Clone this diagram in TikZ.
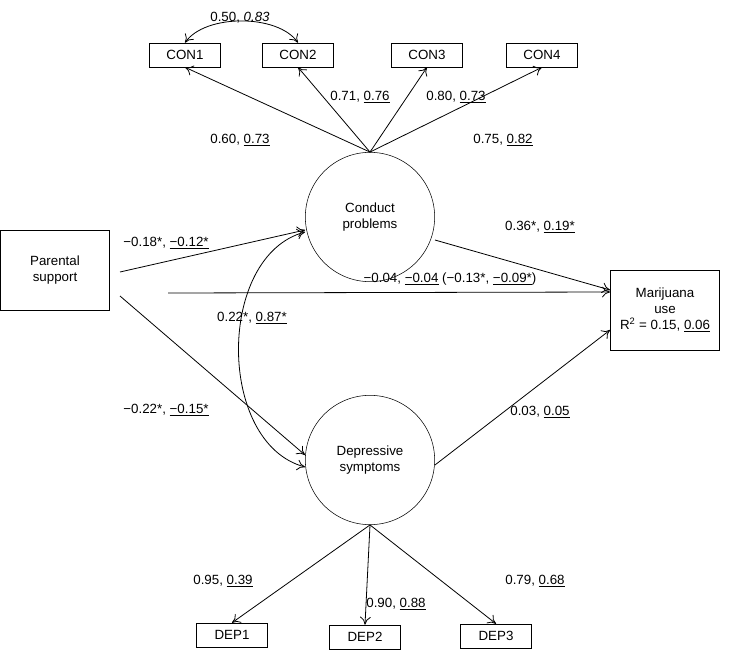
\documentclass[tikz,border=0pt]{standalone}
\usepackage{fontspec}
\setmainfont{Liberation Sans}
\usetikzlibrary{arrows.meta}

\begin{document}
\begin{tikzpicture}[x=0.75pt,y=-0.75pt,
  txt/.style={font=\fontsize{10}{12}\selectfont},
  box/.style={draw,txt,minimum width=53pt,minimum height=18pt,inner sep=1pt},
  bigbox/.style={draw,txt,minimum width=82pt,minimum height=60pt,align=center},
  latent/.style={draw,txt,circle,minimum size=97pt,align=center},
  lab/.style={txt,inner sep=1pt},
  path/.style={-{To[length=6pt,width=8pt]},line width=0.6pt}]

\useasboundingbox (0,0) rectangle (746,653);

% Indicators
\node[box] (con1) at (185,55) {CON1};
\node[box] (con2) at (298,55) {CON2};
\node[box] (con3) at (427,55) {CON3};
\node[box] (con4) at (542,55) {CON4};
\node[box] (dep1) at (232,635) {DEP1};
\node[box] (dep2) at (365,637) {DEP2};
\node[box] (dep3) at (496,636) {DEP3};

% Latent and observed variables
\node[latent] (cp) at (370,217) {Conduct\\problems};
\node[latent] (ds) at (370,460) {Depressive\\symptoms};
\node[bigbox] (ps) at (55,270) {Parental\\support};
\node[bigbox] (mu) at (665,310) {Marijuana\\use\\R\textsuperscript{2} = 0.15, \underline{0.06}};

% Loadings
\foreach \c in {con1,con2,con3,con4}
  \draw[path] (cp.north) -- (\c.south);
\foreach \d in {dep1,dep2,dep3}
  \draw[path] (ds.south) -- (\d.north);
\draw[{To[length=6pt,width=8pt]}-{To[length=6pt,width=8pt]},line width=0.6pt]
  (con1.north) to[out=55,in=125,looseness=0.8] (con2.north);

% Structural paths
\coordinate (psa) at (120,272);
\coordinate (psb) at (120,296);
\coordinate (psc) at (168,293);
\draw[path] (psa) -- (cp.west |- 0,230);
\draw[path] (psb) -- (ds.west |- 0,455);
\draw[path] (psc) -- (mu.west |- 0,292);
\draw[path] (cp.east |- 0,240) -- (mu.west |- 0,290);
\draw[path] (ds.east |- 0,465) -- (mu.west |- 0,330);
\draw[{To[length=6pt,width=8pt]}-{To[length=6pt,width=8pt]},line width=0.6pt]
  (cp.west |- 0,232) to[out=195,in=165,looseness=1] (ds.west |- 0,467);

% Labels
\node[lab] at (240,18) {0.50, \textit{0.83}};
\node[lab] at (240,140) {0.60, \underline{0.73}};
\node[lab] at (360,97) {0.71, \underline{0.76}};
\node[lab] at (456,97) {0.80, \underline{0.73}};
\node[lab] at (503,140) {0.75, \underline{0.82}};
\node[lab] at (166,243) {−0.18*, \underline{−0.12*}};
\node[lab] at (166,410) {−0.22*, \underline{−0.15*}};
\node[lab] at (252,318) {0.22*, \underline{0.87*}};
\node[lab] at (450,279) {−0.04, \underline{−0.04} (−0.13*, \underline{−0.09*})};
\node[lab] at (540,227) {0.36*, \underline{0.19*}};
\node[lab] at (540,412) {0.03, \underline{0.05}};
\node[lab] at (223,581) {0.95, \underline{0.39}};
\node[lab] at (396,604) {0.90, \underline{0.88}};
\node[lab] at (535,581) {0.79, \underline{0.68}};
\end{tikzpicture}
\end{document}
